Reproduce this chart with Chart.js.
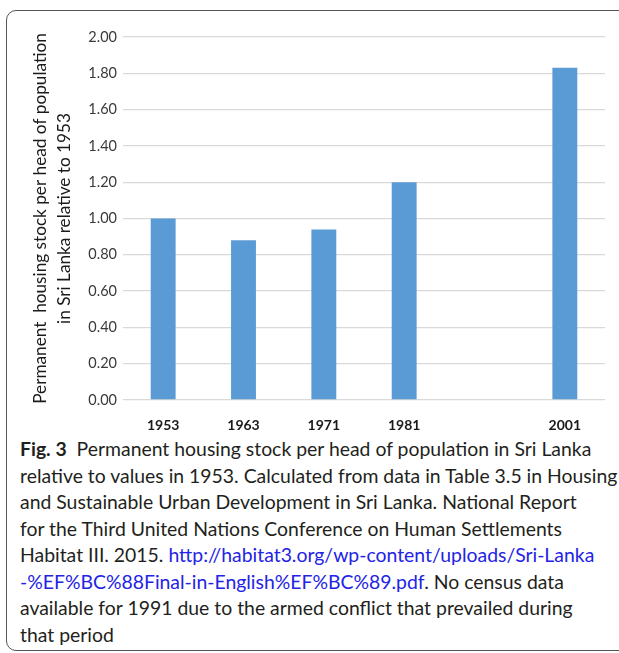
<!DOCTYPE html>
<html>
<head>
<meta charset="utf-8">
<script src="https://cdn.jsdelivr.net/npm/chart.js@4.4.0/dist/chart.umd.min.js"></script>
<style>
html,body{margin:0;padding:0;background:#fff;width:619px;height:653px;overflow:hidden}
#frame{position:absolute;left:6px;top:10px;width:700px;height:641px;border:1.5px solid #555;border-radius:10px;box-sizing:border-box}
#wrap{position:absolute;left:0;top:0;width:619px;height:430px}
#cap{position:absolute;left:20px;top:436px;font-family:Lato,sans-serif;font-size:19.4px;line-height:26.5px;color:#231f20;white-space:nowrap}
#cap b{font-weight:700}
#cap a{color:#2323e6;text-decoration:none}
</style>
</head>
<body>
<div id="frame"></div>
<div id="wrap"><canvas id="c" width="619" height="430"></canvas></div>
<div id="cap"><b>Fig. 3</b>&nbsp; Permanent housing stock per head of population in Sri Lanka<br>relative to values in 1953. Calculated from data in Table 3.5 in Housing<br>and Sustainable Urban Development in Sri Lanka. National Report<br>for the Third United Nations Conference on Human Settlements<br>Habitat III. 2015. <a>http://habitat3.org/wp-content/uploads/Sri-Lanka</a><br><a>-%EF%BC%88Final-in-English%EF%BC%89.pdf</a>. No census data<br>available for 1991 due to the armed conflict that prevailed during<br>that period</div>
<script>
const years=["1953","1963","1971","1981","","2001"];
const ratio=[1.00,0.88,0.94,1.20,null,1.83];
const yTicks=[0,0.2,0.4,0.6,0.8,1.0,1.2,1.4,1.6,1.8,2.0];
const yTitle=["Permanent  housing stock per head of population","in Sri Lanka relative to 1953"];

new Chart(document.getElementById("c"),{
type:"bar",
data:{labels:years,datasets:[{data:ratio,backgroundColor:"#5b9bd5",borderWidth:0,barPercentage:0.62,categoryPercentage:0.5}]},
options:{
responsive:false,animation:false,
layout:{padding:{left:0,right:14,top:37,bottom:0}},
plugins:{legend:{display:false},tooltip:{enabled:false}},
scales:{
x:{grid:{display:false},border:{display:false},
ticks:{color:"#1a1a1a",font:{family:"Lato",size:14,weight:"bold"},padding:9,maxRotation:0},
afterFit:s=>{s.height=30}},
y:{min:0,max:2,
afterBuildTicks:s=>{s.ticks=yTicks.map(v=>({value:v}))},
grid:{color:"#d9d9d9",lineWidth:1.3,drawTicks:false},border:{display:false},
ticks:{color:"#3a3a3a",font:{family:"Lato",size:14.5},padding:6,callback:v=>v.toFixed(2)},
title:{display:true,text:yTitle,color:"#1a1a1a",font:{family:"Lato",size:17.2,lineHeight:24/17.2},padding:{top:28,bottom:0}},
afterFit:s=>{s.width=123}}
}
}
});
</script>
</body>
</html>
